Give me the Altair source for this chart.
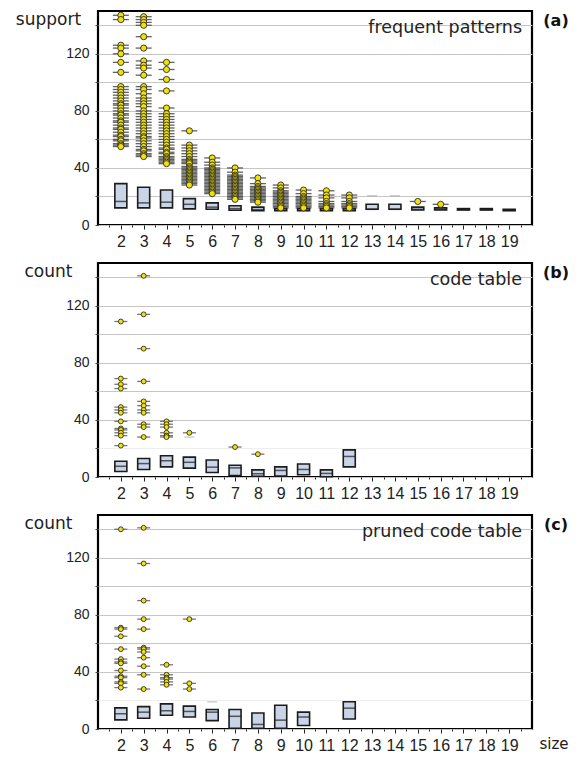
import altair as alt
import pandas as pd

# ---------------- data ----------------
SIZE_LABELS = [2, 3, 4, 5, 6, 7, 8, 9, 10, 11, 12, 13, 14, 15, 16, 17, 18, 19]
Y_TICKS = [0, 20, 40, 60, 80, 100, 120, 140]

# (a) frequent patterns
A_SIZE = [2, 3, 4, 5, 6, 7, 8, 9, 10, 11, 12, 13, 14, 15, 16, 17, 18, 19]
A_Q1 = [12, 12, 12, 11.3, 11, 10.3, 10, 10, 10, 10, 10, 11, 11, 10.5, 10.5, 10.5, 10.5, 10]
A_MED = [16.5, 15.5, 16, 14.5, 12.5, 11.5, 10.8, 10.3, 10.3, 10.3, 10.3, 11, 11, 11, 11, 11, 11, 10.5]
A_Q3 = [29, 26.5, 24.5, 18.5, 15.5, 13.5, 12.5, 11.5, 11.5, 11.5, 11.5, 14.5, 14.5, 12.5, 12, 11.5, 11.5, 11]
A_OUTLIERS = {
    2: [147, 144, 126, 124, 120, 114, 107, 97, 95, 93, 91, 89, 87, 85, 84, 82, 80, 78, 77, 75,
        73, 72, 70, 68, 67, 65, 63, 62, 60, 59, 57, 56, 55],
    3: [146, 144, 142, 140, 132, 124, 115, 112, 110, 105, 97, 95, 92, 89, 87, 85, 83, 80, 78, 76,
        74, 72, 70, 68, 66, 64, 62, 61, 59, 57, 55, 53, 52, 50, 49, 48],
    4: [114, 109, 102, 94, 82, 78, 76, 74, 72, 70, 68, 66, 64, 62, 60, 58, 56, 54, 53, 51, 50,
        48, 47, 46, 45, 44, 43],
    5: [66, 56, 54, 52, 50, 48, 46, 45, 44, 43, 41, 40, 39, 38, 37, 36, 35, 34, 33, 32, 31, 30, 29, 28],
    6: [47, 44, 42, 40, 39, 38, 37, 36, 35, 34, 33, 32, 31, 30, 29, 28, 27, 26, 25, 24, 23, 22],
    7: [40, 37, 35, 34, 33, 32, 31, 30, 29, 28, 27, 26, 25, 24, 23, 22, 21, 20, 19, 18],
    8: [33, 29, 27, 26, 25, 24, 23, 22, 21, 20, 19, 18, 17, 16],
    9: [28, 26, 24, 23, 22, 21, 20, 19, 18, 17, 16, 15, 14, 13, 12],
    10: [24.5, 22, 20, 19, 18, 17, 16, 15, 14, 13, 12],
    11: [24, 21, 19, 16.5, 15, 14, 13, 12],
    12: [21, 19, 16.5, 15, 14, 13, 12],
    15: [16.5],
    16: [14.5],
}
A_WHISKERS = {13: [20.5], 14: [20.5]}

# (b) code table
B_SIZE = [2, 3, 4, 5, 6, 7, 8, 9, 10, 11, 12]
B_Q1 = [3.9, 5.3, 7.1, 6.2, 3.2, 1.1, 0.5, 0.7, 1.6, 0.2, 7.1]
B_MED = [7.5, 9.4, 11.4, 10.3, 6.9, 6.4, 2.3, 4.6, 5.3, 2.5, 14.4]
B_Q3 = [11, 13, 14.9, 13.9, 11.9, 8.2, 5, 7.1, 9.1, 5, 19]
B_OUTLIERS = {
    2: [109, 69, 65, 62, 49, 47, 45, 39, 34, 33, 31, 29, 22],
    3: [141, 114, 90, 67, 53, 50, 47, 45, 37, 35, 28],
    4: [39, 37, 35, 31, 29, 28],
    5: [31],
    7: [21],
    8: [16],
}
B_WHISKERS = {5: [28]}

# (c) pruned code table
C_SIZE = [2, 3, 4, 5, 6, 7, 8, 9, 10, 12]
C_Q1 = [6.4, 7.5, 9.6, 8.4, 5.9, 0.5, 0.5, 0.5, 2.5, 7]
C_MED = [10.7, 11.8, 12.8, 12.3, 11.8, 8.9, 3.2, 6.2, 8.4, 14.6]
C_Q3 = [14.8, 15.7, 17.6, 16, 13.7, 13.7, 11.2, 16.6, 11.8, 19.1]
C_OUTLIERS = {
    2: [140, 71, 70, 65, 56, 49, 47, 46, 41, 37, 36, 33, 32, 29],
    3: [141, 116, 90, 77, 70, 57, 56, 54, 50, 44, 38, 28],
    4: [45, 38, 36, 35, 33, 31],
    5: [77, 32, 28],
}
C_WHISKERS = {6: [19]}

# ---------------- helpers ----------------
W, H = 434, 214
FONT = "DejaVu Sans"
NUMFONT = "Liberation Sans"
X_VALUES = sorted(SIZE_LABELS + [s - 0.5 for s in SIZE_LABELS] + [SIZE_LABELS[-1] + 0.5])


def box_frame(sizes, q1, med, q3):
    return pd.DataFrame({"size": sizes, "q1": q1, "median": med, "q3": q3})


def long_frame(d):
    rows = [{"size": k, "value": v} for k, vals in d.items() for v in vals]
    return pd.DataFrame(rows)


def panel(box, out, whisk, name, letter, ytitle, xtitle, pt, tick_len, tick_col, tick_op, faint20):
    xaxis_kw = dict(
        values=X_VALUES,
        labelExpr="datum.value % 1 == 0 ? '' + datum.value : ''",
        tickSize={"condition": {"test": "datum.value % 1 != 0", "value": 2}, "value": 4},
        tickColor="#222",
        labelFont=NUMFONT, labelFontSize=16, labelColor="#222", labelPadding=4,
        labelOverlap=False, labelFlush=False,
        grid=False, domain=False,
    )
    if xtitle:
        xaxis_kw.update(title=xtitle, titleX=470, titleY=19, titleAlign="right",
                        titleBaseline="alphabetic", titleFont=FONT, titleFontSize=15,
                        titleFontWeight="normal", titleColor="#222")
    else:
        xaxis_kw.update(title=None)
    xaxis = alt.Axis(**xaxis_kw)

    grid_color = ({"condition": {"test": "datum.value == 20", "value": "#eeeeee"}, "value": "#c6c6c6"}
                  if faint20 else "#c6c6c6")
    yaxis = alt.Axis(
        values=Y_TICKS,
        labelExpr="datum.value % 40 == 0 ? '' + datum.value : ''",
        tickSize=3, tickColor="#444",
        labelFont=NUMFONT, labelFontSize=14, labelColor="#222", labelPadding=6,
        grid=True, gridColor=grid_color, gridWidth=1, domain=False,
        title=ytitle, titleAngle=0, titleAlign="center", titleBaseline="alphabetic",
        titleX=-50, titleY=13, titleFont=FONT, titleFontSize=17,
        titleFontWeight="normal", titleColor="#222",
    )
    xs = alt.Scale(domain=[1, 20], nice=False, zero=False, padding=0)
    ys = alt.Scale(domain=[0, 150], nice=False, padding=0)

    def X():
        return alt.X("size:Q", scale=xs, axis=xaxis)

    def Y(f):
        return alt.Y(f"{f}:Q", scale=ys, axis=yaxis)

    boxes = alt.Chart(box).mark_bar(size=12, fill="#c9d4e7", stroke="#1c1c1c", strokeWidth=1.6).encode(
        x=X(), y=Y("q1"), y2="q3")
    meds = alt.Chart(box).mark_tick(orient="horizontal", size=12, thickness=1.5, color="#1c1c1c").encode(
        x=X(), y=Y("median"))
    wh = alt.Chart(long_frame(whisk)).mark_tick(orient="horizontal", size=10, thickness=1,
                                                 color="#9a9a9a", strokeDash=[2, 2]).encode(
        x=X(), y=Y("value"))
    oticks = alt.Chart(out).mark_tick(orient="horizontal", size=tick_len, thickness=1.3,
                                      color=tick_col, opacity=tick_op).encode(x=X(), y=Y("value"))
    pts = alt.Chart(out).mark_circle(size=pt, color="#f2e200", opacity=1, stroke="#2a2a2a",
                                     strokeWidth=0.9).encode(x=X(), y=Y("value"))
    tdf = pd.DataFrame({"t": [name]})
    title = alt.Chart(tdf).mark_text(align="right", baseline="alphabetic", font=FONT, fontSize=17.5,
                                     color="#222").encode(text="t:N", x=alt.value(W - 10), y=alt.value(22))
    ldf = pd.DataFrame({"t": [letter]})
    lab = alt.Chart(ldf).mark_text(align="center", baseline="middle", font=FONT, fontSize=16,
                                   fontWeight="bold", color="#111").encode(
        text="t:N", x=alt.value(W + 24), y=alt.value(10))
    return alt.layer(boxes, meds, wh, oticks, pts, title, lab).properties(width=W, height=H)


pa = panel(box_frame(A_SIZE, A_Q1, A_MED, A_Q3), long_frame(A_OUTLIERS), A_WHISKERS,
           "frequent patterns", "(a)", "support", None, 38, 16, "#2e2e2e", 0.75, False)
pb = panel(box_frame(B_SIZE, B_Q1, B_MED, B_Q3), long_frame(B_OUTLIERS), B_WHISKERS,
           "code table", "(b)", "count", None, 24, 13, "#555555", 0.8, True)
pc = panel(box_frame(C_SIZE, C_Q1, C_MED, C_Q3), long_frame(C_OUTLIERS), C_WHISKERS,
           "pruned code table", "(c)", "count", "size", 24, 13, "#555555", 0.8, True)

chart = alt.vconcat(pa, pb, pc, spacing=38, bounds="flush").configure_view(
    stroke="#000000", strokeWidth=2.2
).properties(padding={"left": 6, "top": 0, "right": 0, "bottom": 0})

chart.save("out.html", embed_options={"renderer": "svg", "actions": False})
